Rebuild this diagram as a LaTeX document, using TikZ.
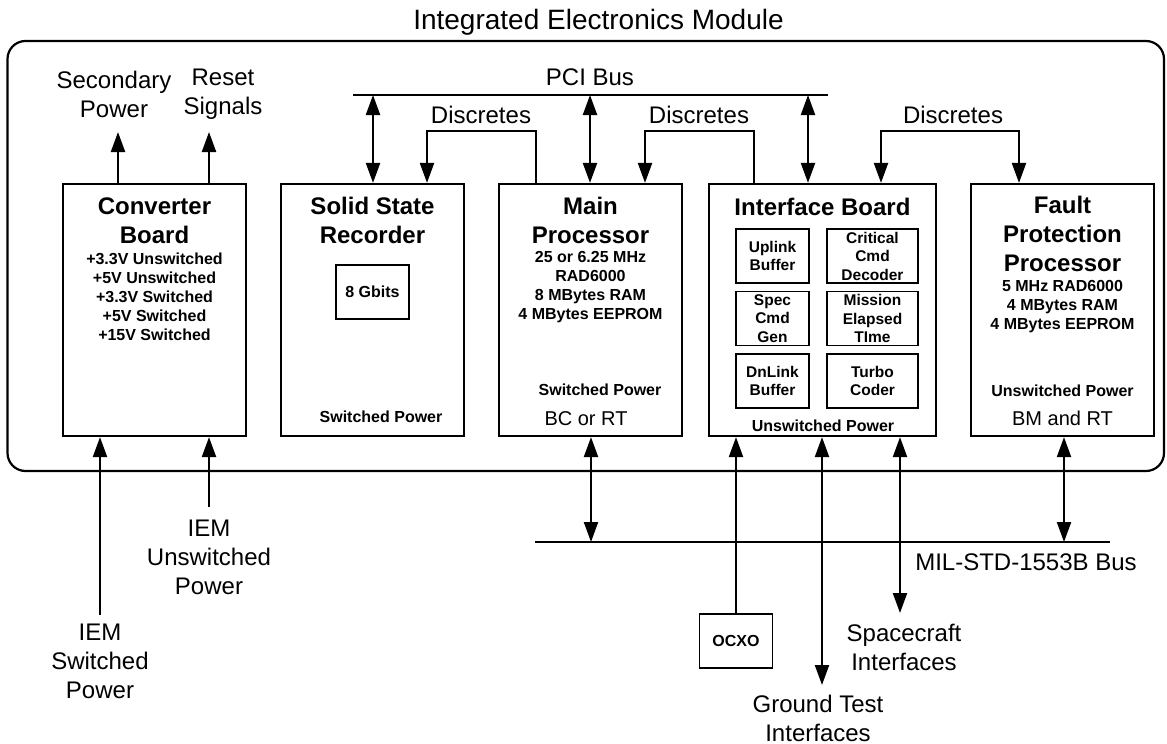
\documentclass[tikz,border=0pt]{standalone}
\usepackage{fontspec}
\setmainfont{Liberation Sans}
\usetikzlibrary{arrows.meta,positioning}

\begin{document}
\begin{tikzpicture}[
    x=1pt, y=-1pt,
    board/.style={rectangle, draw, line width=2.2pt, minimum width=183pt, minimum height=252pt, inner sep=0pt},
    part/.style={rectangle, draw, line width=1.8pt, minimum height=54pt, inner sep=0pt, align=center,
        font=\bfseries\fontsize{15.5}{18.5}\selectfont},
    ttl/.style={align=center, font=\bfseries\fontsize{24}{29}\selectfont},
    spec/.style={align=center, font=\bfseries\fontsize{16}{19}\selectfont},
    lbl/.style={align=center, font=\fontsize{24}{29}\selectfont},
    small/.style={align=center, font=\fontsize{20}{25}\selectfont},
    arrow/.style={-{Triangle[length=20pt, width=14pt]}, line width=2.2pt},
    both/.style={{Triangle[length=20pt, width=14pt]}-{Triangle[length=20pt, width=14pt]}, line width=2.2pt},
    bus/.style={line width=2.2pt}
]
    \useasboundingbox (0,0) rectangle (1167,744);

    % Module outline
    \draw[line width=2.2pt, rounded corners=18pt] (7.5,41) rectangle (1164,471);
    \node[lbl, font=\fontsize{28}{32}\selectfont] (iem) at (598.5,22) {Integrated Electronics Module};

    % Boards
    \node[board] (conv) at (154.5,310) {};
    \node[board] (ssr) at (372.5,310) {};
    \node[board] (main) at (590.5,310) {};
    \node[board, minimum width=227pt] (ib) at (822.5,310) {};
    \node[board] (fpp) at (1062.5,310) {};

    % Converter Board
    \node[ttl] (convT) at (154.5,220.5) {Converter\\Board};
    \node[spec] (convS) at (154.5,296.5) {+3.3V Unswitched\\+5V Unswitched\\+3.3V Switched\\+5V Switched\\+15V Switched};

    % Solid State Recorder
    \node[ttl] (ssrT) at (372.5,220.5) {Solid State\\Recorder};
    \node[part, minimum width=73pt, font=\bfseries\fontsize{16}{19}\selectfont] (mem) at (372.5,292) {8 Gbits};
    \node[spec] (ssrP) at (381,417) {Switched Power};

    % Main Processor
    \node[ttl] (mainT) at (590.5,220.5) {Main\\Processor};
    \node[spec] (mainS) at (590.5,287.5) {25 or 6.25 MHz\\RAD6000\\8 MBytes RAM\\4 MBytes EEPROM};
    \node[spec] (mainP) at (600,390) {Switched Power};
    \node[small] (mainB) at (586,419) {BC or RT};

    % Interface Board
    \node[ttl] (ibT) at (822.5,207) {Interface Board};
    \node[part, minimum width=73pt] (uplink) at (772.5,256) {Uplink\\Buffer};
    \node[part, minimum width=91pt] (crit) at (872.5,256) {Critical\\Cmd\\Decoder};
    \node[part, minimum width=73pt] (specgen) at (772.5,318.5) {Spec\\Cmd\\Gen};
    \node[part, minimum width=91pt] (met) at (872.5,318.5) {Mission\\Elapsed\\TIme};
    \node[part, minimum width=73pt] (dnlink) at (772.5,381) {DnLink\\Buffer};
    \node[part, minimum width=91pt] (turbo) at (872.5,381) {Turbo\\Coder};
    \node[spec] (ibP) at (823,426) {Unswitched Power};

    % Fault Protection Processor
    \node[ttl] (fppT) at (1062.5,234) {Fault\\Protection\\Processor};
    \node[spec] (fppS) at (1062.5,307) {5 MHz RAD6000\\4 MBytes RAM\\4 MBytes EEPROM};
    \node[spec] (fppP) at (1062.5,391) {Unswitched Power};
    \node[small] (fppB) at (1062.5,418) {BM and RT};

    % Converter outputs and inputs
    \node[lbl] (secpow) at (114,94) {Secondary\\Power};
    \node[lbl] (reset) at (223,94) {Reset\\Signals};
    \coordinate (secTip) at (118,132);
    \coordinate (resTip) at (209,132);
    \draw[arrow] (conv.north -| secTip) -- (secTip);
    \draw[arrow] (conv.north -| resTip) -- (resTip);

    \node[lbl] (swpow) at (100,661) {IEM\\Switched\\Power};
    \node[lbl] (unswpow) at (209,557) {IEM\\Unswitched\\Power};
    \draw[arrow] (100,615) -- (conv.south -| swpow);
    \draw[arrow] (209,507) -- (conv.south -| unswpow);

    % PCI bus
    \coordinate (pciL) at (353,95);
    \coordinate (pciR) at (828,95);
    \draw[bus] (pciL) -- (pciR);
    \node[lbl] (pci) at (590,77) {PCI Bus};
    \draw[both] (373,95) -- (ssr.north -| 373,0);
    \draw[both] (590,95) -- (main.north -| 590,0);
    \draw[both] (808,95) -- (ib.north -| 808,0);

    % Discretes
    \node[lbl] (disc1) at (481,115) {Discretes};
    \node[lbl] (disc2) at (699,115) {Discretes};
    \node[lbl] (disc3) at (953,115) {Discretes};
    \draw[arrow] (main.north -| 536,0) |- (427,131) -- (ssr.north -| 427,0);
    \draw[arrow] (ib.north -| 754,0) |- (645,131) -- (main.north -| 645,0);
    \draw[arrow] (953,131) -| (ib.north -| 881,0);
    \draw[arrow] (953,131) -| (fpp.north -| 1019,0);

    % MIL-STD-1553B bus
    \coordinate (milL) at (535,542);
    \coordinate (milR) at (1110,542);
    \draw[bus] (milL) -- (milR);
    \node[lbl] (mil) at (1026,562) {MIL-STD-1553B Bus};
    \draw[both] (main.south -| 591,0) -- (591,542);
    \draw[both] (fpp.south -| 1064,0) -- (1064,542);

    % Interface Board external links
    \node[part, minimum width=73pt, font=\bfseries\fontsize{16}{19}\selectfont] (ocxo) at (736,641) {OCXO};
    \draw[arrow] (ocxo.north) -- (ib.south -| ocxo);
    \coordinate (gndTip) at (822,685);
    \node[lbl] (gnd) at (818,718) {Ground Test\\Interfaces};
    \draw[both] (ib.south -| gndTip) -- (gndTip);
    \coordinate (scTip) at (900,613);
    \node[lbl] (sc) at (904,647) {Spacecraft\\Interfaces};
    \draw[both] (ib.south -| scTip) -- (scTip);
\end{tikzpicture}
\end{document}
